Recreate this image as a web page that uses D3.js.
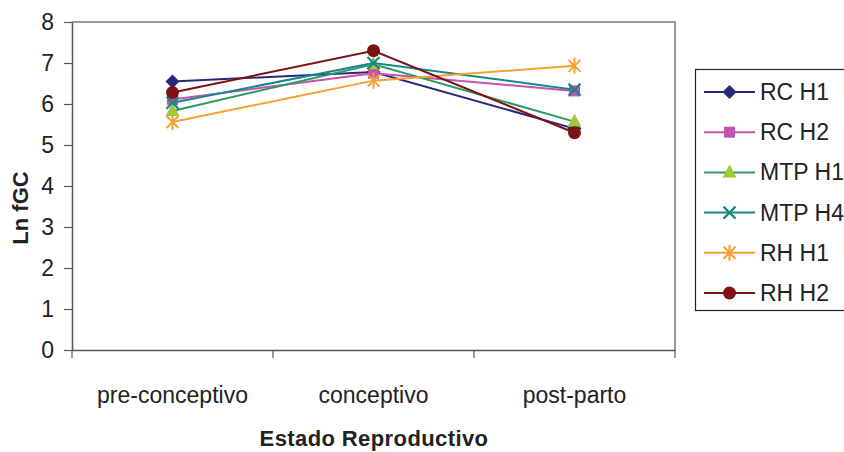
<!DOCTYPE html>
<html>
<head>
<meta charset="utf-8">
<script src="https://cdn.jsdelivr.net/npm/d3@7"></script>
<style>
  html, body { margin: 0; padding: 0; background: #fff; }
  svg { display: block; font-family: Arial, "Liberation Sans", sans-serif; }
</style>
</head>
<body>
<svg id="chart" width="844" height="452"></svg>
<script>
// Reproductive state categories (x axis)
const categories = ["pre-conceptivo", "conceptivo", "post-parto"];

// Series names
const seriesNames = ["RC H1", "RC H2", "MTP H1", "MTP H4", "RH H1", "RH H2"];

// Ln fGC per series, one value per category
const rcH1  = [6.55, 6.78, 5.40];
const rcH2  = [6.11, 6.75, 6.32];
const mtpH1 = [5.83, 6.97, 5.57];
const mtpH4 = [6.03, 7.00, 6.35];
const rhH1  = [5.56, 6.57, 6.93];
const rhH2  = [6.28, 7.30, 5.30];

// Y axis ticks
const yTicks = [0, 1, 2, 3, 4, 5, 6, 7, 8];

const seriesValues = [rcH1, rcH2, mtpH1, mtpH4, rhH1, rhH2];

// Styling per series: line colour, marker fill, marker shape
const styles = [
  { line: "#29287c", fill: "#29287c", shape: "diamond" },
  { line: "#c452b0", fill: "#c452b0", shape: "square" },
  { line: "#2e9a60", fill: "#9ccb3a", shape: "triangle" },
  { line: "#17878a", fill: "none",    shape: "cross" },
  { line: "#f6a031", fill: "none",    shape: "star" },
  { line: "#7d1216", fill: "#7d1216", shape: "circle" }
];

const FONT = 23;
const svg = d3.select("#chart");
const plot = { left: 72, right: 675, top: 22, bottom: 350 };

const x = d3.scaleBand().domain(categories).range([plot.left, plot.right]).padding(0);
const y = d3.scaleLinear().domain([0, 8]).range([plot.bottom, plot.top]);
const cx = c => x(c) + x.bandwidth() / 2;

// Plot frame (top and right)
svg.append("path")
  .attr("d", `M${plot.left},${plot.top}H${plot.right}V${plot.bottom}`)
  .attr("fill", "none").attr("stroke", "#9a9a9a").attr("stroke-width", 2);

// Y axis
const yAxis = svg.append("g")
  .attr("transform", `translate(${plot.left},0)`)
  .call(d3.axisLeft(y).tickValues(yTicks).tickSize(8).tickSizeOuter(0).tickPadding(10));
yAxis.select(".domain").attr("stroke", "#555").attr("stroke-width", 1.5);
yAxis.selectAll(".tick line").attr("stroke", "#555").attr("stroke-width", 1.2);
yAxis.selectAll(".tick text")
  .attr("font-size", FONT).attr("fill", "#222")
  .attr("font-family", "Arial, 'Liberation Sans', sans-serif");

// X axis (labels centred in bands, ticks at band boundaries)
const xAxis = svg.append("g")
  .attr("transform", `translate(0,${plot.bottom})`)
  .call(d3.axisBottom(x).tickSize(0).tickSizeOuter(0).tickPadding(37));
xAxis.select(".domain").attr("stroke", "#555").attr("stroke-width", 1.5);
xAxis.selectAll(".tick text")
  .attr("font-size", FONT).attr("fill", "#222")
  .attr("font-family", "Arial, 'Liberation Sans', sans-serif");
const boundaries = categories.map(c => x(c)).concat([x(categories[categories.length - 1]) + x.bandwidth()]);
xAxis.selectAll(".bnd").data(boundaries).join("line")
  .attr("class", "bnd")
  .attr("x1", d => d).attr("x2", d => d)
  .attr("y1", 0).attr("y2", 8)
  .attr("stroke", "#555").attr("stroke-width", 1.2);

// Axis titles
svg.append("text")
  .attr("transform", "translate(28,208) rotate(-90)")
  .attr("text-anchor", "middle")
  .attr("font-size", 22).attr("font-weight", "bold").attr("fill", "#222")
  .text("Ln fGC");
svg.append("text")
  .attr("x", 374).attr("y", 446)
  .attr("text-anchor", "middle")
  .attr("font-size", 22).attr("font-weight", "bold").attr("fill", "#222")
  .attr("letter-spacing", 0.4)
  .text("Estado Reproductivo");

// Marker drawing
function drawMarker(g, st) {
  const s = st.shape;
  if (s === "diamond") {
    g.append("path").attr("d", "M0,-7L7,0L0,7L-7,0Z").attr("fill", st.fill);
  } else if (s === "square") {
    g.append("rect").attr("x", -5.5).attr("y", -5.5).attr("width", 11).attr("height", 11).attr("fill", st.fill);
  } else if (s === "triangle") {
    g.append("path").attr("d", "M0,-8L7,5L-7,5Z").attr("fill", st.fill);
  } else if (s === "cross") {
    g.append("path").attr("d", "M-6,-6L6,6M-6,6L6,-6")
      .attr("stroke", st.line).attr("stroke-width", 2.2).attr("fill", "none");
  } else if (s === "star") {
    g.append("path").attr("d", "M-6,-6L6,6M-6,6L6,-6M0,-8V8")
      .attr("stroke", st.line).attr("stroke-width", 2).attr("fill", "none");
  } else if (s === "circle") {
    g.append("circle").attr("r", 6.5).attr("fill", st.fill);
  }
}

const line = d3.line().x((d, i) => cx(categories[i])).y(d => y(d));

// Series lines and markers
seriesValues.forEach((vals, k) => {
  const st = styles[k];
  const g = svg.append("g").attr("class", "series");
  g.append("path").datum(vals)
    .attr("d", line)
    .attr("fill", "none").attr("stroke", st.line).attr("stroke-width", 2);
  vals.forEach((v, i) => {
    const m = g.append("g").attr("transform", `translate(${cx(categories[i])},${y(v)})`);
    drawMarker(m, st);
  });
});

// Legend
const legend = svg.append("g");
legend.append("rect")
  .attr("x", 695.5).attr("y", 69.5).attr("width", 170).attr("height", 241)
  .attr("fill", "#fff").attr("stroke", "#222").attr("stroke-width", 1.2);
const rowY = d3.scaleLinear().domain([0, seriesNames.length - 1]).range([92, 293]);
seriesNames.forEach((name, k) => {
  const st = styles[k];
  const yy = rowY(k);
  legend.append("line")
    .attr("x1", 704).attr("x2", 755).attr("y1", yy).attr("y2", yy)
    .attr("stroke", st.line).attr("stroke-width", 2);
  const m = legend.append("g").attr("transform", `translate(729.5,${yy})`);
  drawMarker(m, st);
  legend.append("text")
    .attr("x", 760).attr("y", yy + 8)
    .attr("font-size", FONT).attr("fill", "#222")
    .text(name);
});
</script>
</body>
</html>
